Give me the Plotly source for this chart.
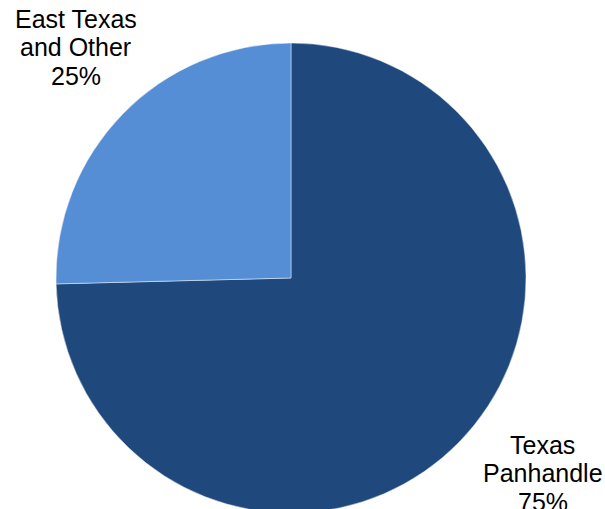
import plotly.graph_objects as go

labels = ["Texas Panhandle", "East Texas and Other"]
values = [74.6, 25.4]
label_lines = [["Texas", "Panhandle"], ["East Texas", "and Other"]]
colors = ["#1F497D", "#558ED5"]

W, H = 605, 515
cx, cy, r = 291, 278, 235

fig = go.Figure(go.Pie(
    labels=labels,
    values=values,
    sort=False,
    direction="clockwise",
    rotation=0,
    textinfo="none",
    hoverinfo="label+percent",
    marker=dict(colors=colors, line=dict(color="rgba(255,255,255,0.45)", width=1)),
    domain=dict(x=[(cx - r) / W, (cx + r) / W], y=[(H - (cy + r)) / H, (H - (cy - r)) / H]),
    showlegend=False,
))

total = sum(values)
# label first-line center (page px)
positions = [(542.5, 444.7), (75.5, 19)]
annotations = []
for lines, v, (x, y0) in zip(label_lines, values, positions):
    all_lines = lines + [f"{round(100 * v / total)}%"]
    for i, t in enumerate(all_lines):
        annotations.append(dict(
            x=x / W, y=(H - (y0 + 28.5 * i)) / H, xref="paper", yref="paper",
            text=t, showarrow=False, xanchor="center", yanchor="middle",
            font=dict(family="Liberation Sans, Arial, sans-serif", size=25, color="#000000"),
        ))

fig.update_layout(
    width=W, height=H,
    margin=dict(l=0, r=0, t=0, b=0),
    paper_bgcolor="white", plot_bgcolor="white",
    annotations=annotations,
)

fig.write_html(
    "out.html",
    config={"displayModeBar": False},
    post_script="document.body.style.margin='0';document.body.style.overflow='hidden';",
)
